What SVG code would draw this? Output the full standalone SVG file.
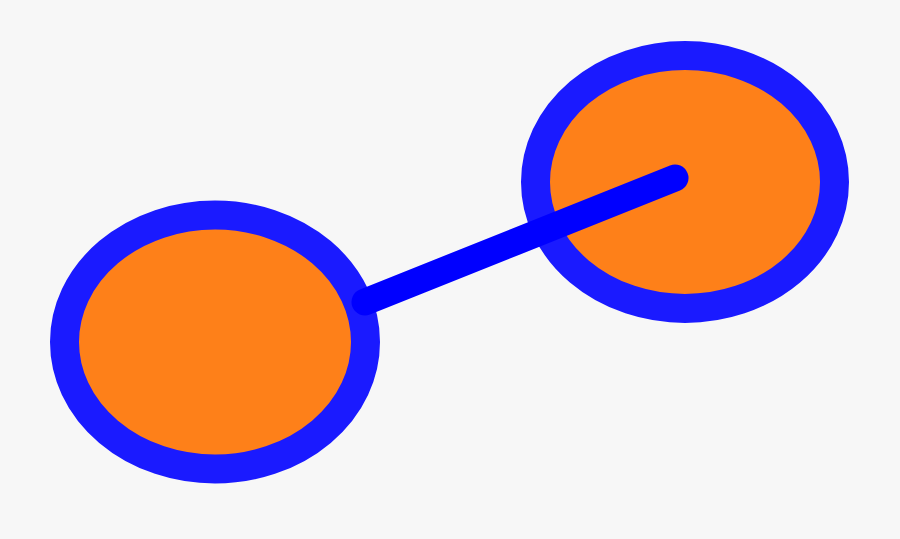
<svg xmlns="http://www.w3.org/2000/svg" width="900" height="539" viewBox="0 0 900 539">
<style>
.node{fill:#fe8019;stroke:#1a1aff;stroke-width:29}
.edge{stroke:#0000ff;stroke-width:27;stroke-linecap:round;fill:none}
</style>
<rect width="900" height="539" fill="#f7f7f7"/>
<g id="node-left"><ellipse class="node" cx="215" cy="342" rx="150.5" ry="127"/></g>
<g id="node-right"><ellipse class="node" cx="685" cy="182" rx="149.5" ry="126.5"/></g>
<g id="connectors"><line class="edge" x1="365" y1="302" x2="675" y2="178"/></g>
</svg>
